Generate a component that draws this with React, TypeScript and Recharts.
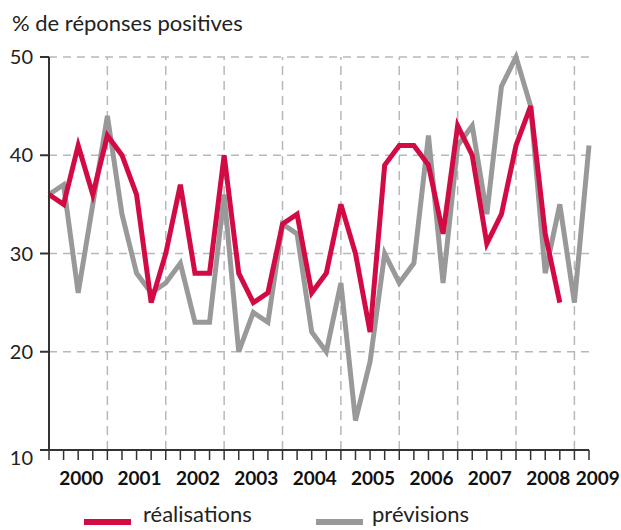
import React from 'react';
import { LineChart, Line, XAxis, YAxis, CartesianGrid, ReferenceLine } from 'recharts';

// quarterly survey, 2000 Q1 -> 2009 Q2
const years = ['2000', '2001', '2002', '2003', '2004', '2005', '2006', '2007', '2008', '2009'];

const realisations = [
  36, 35, 41, 36, 42, 40, 36, 25, 30, 37, 28, 28, 40, 28, 25, 26, 33, 34,
  26, 28, 35, 30, 22, 39, 41, 41, 39, 32, 43, 40, 31, 34, 41, 45, 32, 25,
];

const previsions = [
  36, 37, 26, 35, 44, 34, 28, 26, 27, 29, 23, 23, 36, 20, 24, 23, 33, 32,
  22, 20, 27, 13, 19, 30, 27, 29, 42, 27, 41, 43, 34, 47, 50, 45, 28, 35, 25, 41,
];

const yTicks = [10, 20, 30, 40, 50];

const RED = '#d20b45';
const GRAY = '#999999';
const FONT = 'Lato, "Open Sans", sans-serif';

const data = previsions.map((p, i) => ({
  q: i,
  previsions: p,
  realisations: i < realisations.length ? realisations[i] : null,
}));

const quarterTicks = data.map((d) => d.q);
const yearBounds = years.slice(1).map((_, i) => (i + 1) * 4).filter((v) => v < previsions.length);
// year label sits in the middle of its four quarters (last one pulled in so it fits)
const yearTicks = years.map((_, i) => Math.min(i * 4 + 2, 37.4));

const YTick = (props: any) => {
  const { x, y, payload } = props;
  return (
    <text x={x} y={y + (payload.value === 10 ? 8 : 0)} dy="0.35em" textAnchor="end"
      fontFamily={FONT} fontSize={20} fill="#222">
      {payload.value}
    </text>
  );
};

const YearTick = (props: any) => {
  const { x, y, index } = props;
  return (
    <text x={x + 3} y={y} dy="0.71em" textAnchor="middle" fontFamily={FONT}
      fontSize={19} fontWeight="bold" fill="#111">
      {years[index]}
    </text>
  );
};

export default function App() {
  return (
    <div style={{ position: 'absolute', left: 0, top: 0, width: 621, height: 530, background: '#fff', overflow: 'hidden' }}>
      <div style={{ position: 'absolute', left: 12, top: 9, fontFamily: FONT, fontSize: 22, color: '#222' }}>
        % de réponses positives
      </div>
      <LineChart width={621} height={530} data={data} margin={{ top: 57, right: 32, left: 9, bottom: 40 }}>
        <CartesianGrid xAxisId="q" vertical={false} stroke="#b8b8b8" strokeWidth={1.5} strokeDasharray="8 6" />
        {yearBounds.map((v) => (
          <ReferenceLine key={v} xAxisId="q" x={v} stroke="#b8b8b8" strokeWidth={1.5} strokeDasharray="9 6" />
        ))}
        <XAxis xAxisId="q" dataKey="q" type="number" domain={[0, 37]} ticks={quarterTicks} interval={0}
          height={10} tickSize={10} tick={() => <g />}
          axisLine={{ stroke: '#333', strokeWidth: 2 }} tickLine={{ stroke: '#333', strokeWidth: 1.5 }} />
        <XAxis xAxisId="y" dataKey="q" type="number" domain={[0, 37]} ticks={yearTicks} interval={0}
          height={30} tickSize={0} tickMargin={12} axisLine={false} tickLine={false} tick={<YearTick />}
          allowDataOverflow />
        <YAxis domain={[10, 50]} ticks={yTicks} width={40} tickSize={9} tickMargin={7} interval={0}
          axisLine={{ stroke: '#333', strokeWidth: 2 }} tickLine={{ stroke: '#333', strokeWidth: 2 }} tick={<YTick />} />
        <Line xAxisId="q" dataKey="previsions" stroke={GRAY} strokeWidth={5} dot={false} isAnimationActive={false} />
        <Line xAxisId="q" dataKey="realisations" stroke={RED} strokeWidth={5} dot={false} isAnimationActive={false} />
      </LineChart>
      <div style={{ position: 'absolute', left: 84, top: 519, width: 47, height: 6, background: RED }} />
      <div style={{ position: 'absolute', left: 143, top: 502, fontFamily: FONT, fontSize: 22, color: '#222', lineHeight: '24px' }}>
        réalisations
      </div>
      <div style={{ position: 'absolute', left: 316, top: 519, width: 47, height: 6, background: GRAY }} />
      <div style={{ position: 'absolute', left: 372, top: 502, fontFamily: FONT, fontSize: 22, color: '#222', lineHeight: '24px' }}>
        prévisions
      </div>
    </div>
  );
}
